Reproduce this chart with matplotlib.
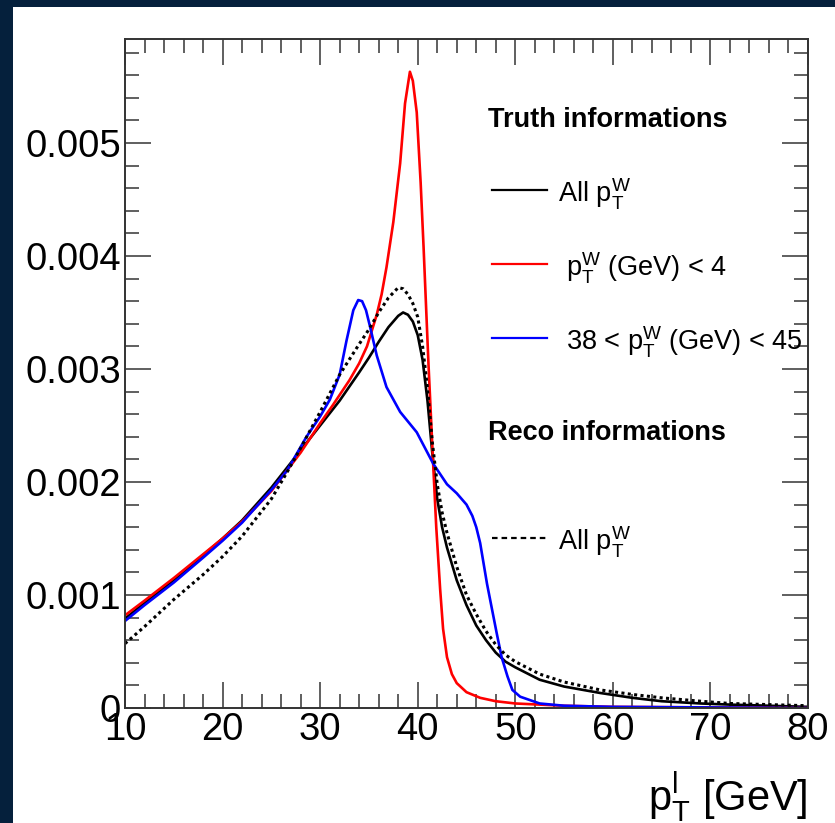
import matplotlib
matplotlib.use("Agg")
import matplotlib.pyplot as plt
from matplotlib.patches import Rectangle
from matplotlib.ticker import MultipleLocator

plt.rcParams['font.family'] = ['Liberation Sans', 'DejaVu Sans']
plt.rcParams['mathtext.fontset'] = 'custom'
plt.rcParams['mathtext.rm'] = 'Liberation Sans'
plt.rcParams['mathtext.it'] = 'Liberation Sans'
plt.rcParams['mathtext.default'] = 'regular'

# ----------------------------
# Data
# ----------------------------

# truth, all pT(W)
x_all = [10, 12, 15, 18, 20, 22, 25, 28, 30, 32, 34, 35, 36, 37, 38, 38.5,
         39, 39.5, 40, 40.5, 41, 41.5, 42, 42.5, 43, 44, 45, 46, 47, 48,
         49, 50, 52.5, 55, 58.7, 62, 65, 69, 72, 76, 80]
y_all = [0.00079, 0.00093, 0.00113, 0.00135, 0.00150, 0.00166, 0.00195,
         0.00228, 0.00250, 0.00272, 0.00297, 0.00310, 0.00324, 0.00337,
         0.00347, 0.00350, 0.00348, 0.00342, 0.00330, 0.00308, 0.00272,
         0.00225, 0.00185, 0.00160, 0.00142, 0.00113, 0.00091, 0.00073,
         0.00060, 0.00049, 0.00041, 0.00036, 0.00025, 0.00019, 0.000133,
         0.00009, 0.00006, 0.00004, 0.00003, 0.00002, 0.00001]

# truth, pT(W) < 4 GeV
x_low = [10, 12, 15, 18, 20, 22, 25, 28, 30, 31.3, 33, 34, 34.8, 35.8, 36.3,
         36.8, 37.5, 38.2, 38.7, 39.2, 39.5, 39.9, 40.3, 40.6, 41.1, 41.6,
         41.9, 42.3, 42.6, 43, 43.5, 44, 45, 46.4, 48, 50, 55, 60, 80]
y_low = [0.00082, 0.00095, 0.00115, 0.00136, 0.00150, 0.00165, 0.00192,
         0.00226, 0.00252, 0.00268, 0.00290, 0.00305, 0.00320, 0.00348,
         0.00366, 0.00390, 0.00430, 0.00482, 0.00535, 0.00563, 0.00555,
         0.00527, 0.00465, 0.00408, 0.00305, 0.00213, 0.00160, 0.00105,
         0.00070, 0.00045, 0.00030, 0.00022, 0.00014, 0.00009, 0.00006,
         0.00004, 0.00002, 0.00001, 0.0]

# truth, 38 < pT(W) < 45 GeV
x_mid = [10, 12, 15, 18, 20, 22, 25, 26.6, 28.6, 30, 31, 32, 32.7, 33.4,
         33.9, 34.3, 34.7, 35.1, 35.8, 36.8, 38.2, 39.9, 41.6, 43, 44, 45,
         45.6, 46, 46.4, 47.1, 48.1, 48.6, 49.2, 49.7, 50.5, 52.5, 55, 60, 80]
y_mid = [0.00077, 0.00091, 0.00111, 0.00133, 0.00148, 0.00164, 0.00193,
         0.00210, 0.00240, 0.00258, 0.00273, 0.00295, 0.00325, 0.00352,
         0.00361, 0.00360, 0.00352, 0.00338, 0.00312, 0.00284, 0.00262,
         0.00244, 0.00216, 0.00198, 0.00190, 0.00180, 0.00170, 0.00160,
         0.00146, 0.00110, 0.00066, 0.00045, 0.00028, 0.00016, 0.00010,
         0.00004, 0.00002, 0.00001, 0.0]

# reco, all pT(W)
x_reco = [10, 12, 15, 18, 20, 22, 25, 26.5, 28, 30, 32, 34, 35, 36, 37, 38,
          38.5, 39, 39.5, 40, 40.5, 41, 41.5, 42, 42.5, 43, 44, 45, 46, 47,
          48, 49, 50, 52.5, 55, 58.7, 62, 65, 69, 72, 76, 80]
y_reco = [0.00057, 0.00072, 0.00096, 0.00118, 0.00134, 0.00152, 0.00185,
          0.00207, 0.00230, 0.00262, 0.00295, 0.00322, 0.00335, 0.00350,
          0.00363, 0.00372, 0.00371, 0.00366, 0.00358, 0.00346, 0.00320,
          0.00283, 0.00235, 0.00198, 0.00173, 0.00155, 0.00125, 0.00100,
          0.00083, 0.00068, 0.00056, 0.00047, 0.00041, 0.00030, 0.00023,
          0.00016, 0.00012, 0.00009, 0.00006, 0.00004, 0.00003, 0.00002]

y_ticks = [0, 0.001, 0.002, 0.003, 0.004, 0.005]
y_tick_labels = ["0", "0.001", "0.002", "0.003", "0.004", "0.005"]

# ----------------------------
# Figure
# ----------------------------

W, H = 835, 823
fig = plt.figure(figsize=(W / 100, H / 100), dpi=100)
fig.patch.set_facecolor("#05203c")
fig.patches.append(
    Rectangle((13 / W, 0), 1, (H - 7) / H,
              transform=fig.transFigure, facecolor="white",
              edgecolor="none", zorder=-5)
)

ax = fig.add_axes([125 / W, 1 - 708 / H, (808 - 125) / W, (708 - 39) / H])
ax.set_zorder(2)
ax.set_facecolor("none")

lw = 1.9
ax.plot(x_all, y_all, color="black", lw=lw)
ax.plot(x_low, y_low, color="#ff0000", lw=lw)
ax.plot(x_mid, y_mid, color="#0000ff", lw=lw)
ax.plot(x_reco, y_reco, color="black", lw=2.2, linestyle=(0, (1, 1.1)))

ax.set_xlim(10, 80)
ax.set_ylim(0, 0.00592)

ax.xaxis.set_major_locator(MultipleLocator(10))
ax.xaxis.set_minor_locator(MultipleLocator(2))
ax.yaxis.set_minor_locator(MultipleLocator(0.0002))
ax.set_yticks(y_ticks)
ax.set_yticklabels(y_tick_labels)

for s in ax.spines.values():
    s.set_color("#333333")
    s.set_linewidth(1.4)

ax.tick_params(which="both", direction="in", top=True, right=True,
               color="#444444", width=1.2)
ax.tick_params(which="major", length=19)
ax.tick_params(which="minor", length=10)
ax.tick_params(axis="y", labelsize=27.5, pad=3)
ax.tick_params(axis="x", labelsize=27.5, pad=3)

fig.text(808 / W, 1 - 797 / H, r"$p_{T}^{l}$ [GeV]", fontsize=30,
         ha="right", va="center", zorder=3)

# ----------------------------
# Legend (hand placed)
# ----------------------------

def fx(px):
    return px / W

def fy(py):
    return 1 - py / H

fig.text(fx(488), fy(120), "Truth informations", fontsize=19.5,
         fontweight="bold", va="center", zorder=3)
fig.text(fx(488), fy(433), "Reco informations", fontsize=19.5,
         fontweight="bold", va="center", zorder=3)

entries = [
    (190, "black", "-", r"All $p_{T}^{W}$", 558),
    (264, "#ff0000", "-", r"$p_{T}^{W}$ (GeV) < 4", 566),
    (338, "#0000ff", "-", r"38 < $p_{T}^{W}$ (GeV) < 45", 566),
    (538, "black", (0, (2.5, 1.8)), r"All $p_{T}^{W}$", 558),
]
for py, c, ls, label, tx in entries:
    fig.add_artist(plt.Line2D([fx(492), fx(547)], [fy(py), fy(py)],
                              color=c, lw=1.6, linestyle=ls,
                              transform=fig.transFigure, zorder=3))
    fig.text(fx(tx), fy(py + 4), label, fontsize=19.5, va="center", zorder=3)

fig.savefig("out.png", dpi=100, facecolor=fig.get_facecolor())
